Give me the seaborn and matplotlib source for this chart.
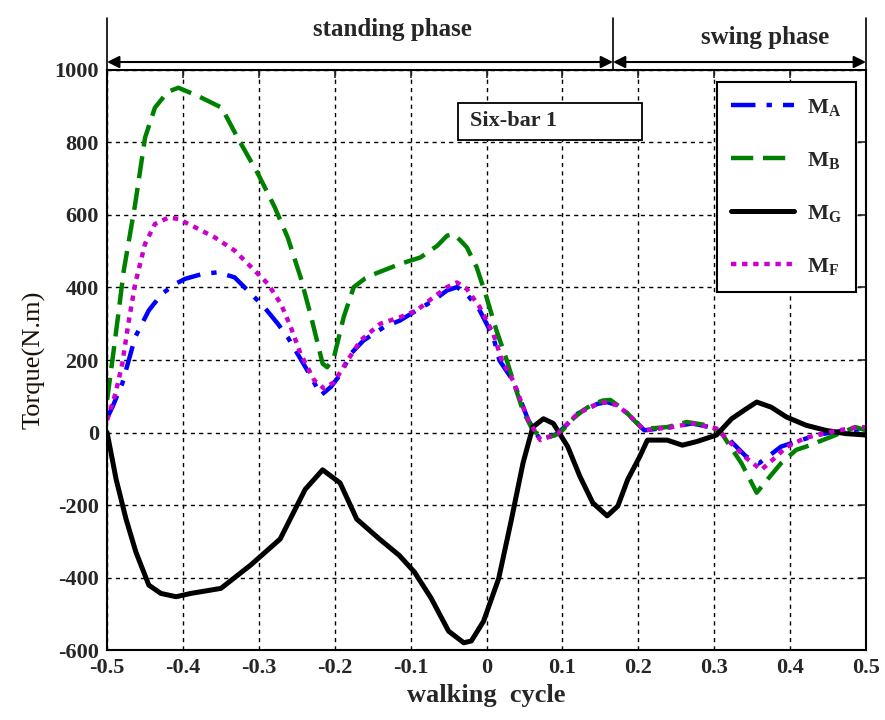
import numpy as np
import pandas as pd
import matplotlib
matplotlib.use("Agg")
import matplotlib.pyplot as plt
from matplotlib.patches import Rectangle
import seaborn as sns

# ---------------- data ----------------
xa = [-0.5, -0.493, -0.480, -0.463, -0.445, -0.428, -0.410, -0.397, -0.375, -0.354, -0.332, -0.310,
      -0.293, -0.275, -0.262, -0.249, -0.236, -0.218, -0.205, -0.192, -0.179, -0.162, -0.135, -0.114,
      -0.096, -0.070, -0.052, -0.039, -0.026, -0.009, 0.009, 0.017, 0.035, 0.055, 0.071, 0.094, 0.120,
      0.146, 0.159, 0.172, 0.186, 0.208, 0.244, 0.271, 0.303, 0.32, 0.342, 0.359, 0.375, 0.388, 0.414,
      0.44, 0.47, 0.5]
ma = [40, 70, 135, 263, 337, 382, 410, 424, 437, 442, 428, 382, 346, 300, 263, 217, 171, 103, 126,
      162, 217, 254, 291, 309, 332, 364, 392, 401, 382, 337, 263, 199, 143, 34, -21, -3, 52, 79, 84,
      75, 52, 6, 15, 25, 11, -20, -66, -85, -60, -39, -21, -5, 5, 10]

xb = [-0.5, -0.493, -0.485, -0.478, -0.463, -0.450, -0.437, -0.420, -0.406, -0.380, -0.349, -0.328,
      -0.301, -0.279, -0.262, -0.245, -0.231, -0.216, -0.210, -0.201, -0.188, -0.175, -0.160, -0.148,
      -0.114, -0.087, -0.065, -0.052, -0.044, -0.035, -0.026, -0.013, 0.0, 0.013, 0.025, 0.035, 0.048,
      0.061, 0.075, 0.09, 0.10, 0.115, 0.127, 0.14, 0.153, 0.163, 0.175, 0.186, 0.196, 0.205, 0.22,
      0.238, 0.264, 0.285, 0.297, 0.31, 0.336, 0.356, 0.372, 0.388, 0.408, 0.421, 0.454, 0.486, 0.5]
mb = [90, 199, 330, 447, 630, 813, 896, 940, 951, 928, 896, 813, 713, 621, 538, 428, 318, 190, 180,
      208, 320, 401, 425, 437, 465, 483, 515, 543, 547, 531, 511, 456, 373, 282, 210, 143, 60, 6, -15,
      -8, 6, 40, 61, 78, 88, 90, 72, 52, 30, 11, 12, 15, 29, 22, 15, -3, -85, -166, -125, -85, -48,
      -39, -12, 15, 6]

xg = [-0.5, -0.488, -0.475, -0.462, -0.445, -0.429, -0.409, -0.390, -0.350, -0.311, -0.272, -0.239,
      -0.216, -0.193, -0.171, -0.141, -0.115, -0.095, -0.073, -0.050, -0.030, -0.020, -0.004, 0.016,
      0.032, 0.048, 0.061, 0.075, 0.088, 0.107, 0.123, 0.140, 0.159, 0.173, 0.186, 0.202, 0.212, 0.238,
      0.258, 0.277, 0.303, 0.323, 0.342, 0.356, 0.375, 0.395, 0.421, 0.447, 0.473, 0.5]
mg = [0, -130, -239, -330, -421, -444, -453, -444, -430, -366, -294, -157, -103, -139, -239, -294,
      -339, -385, -457, -548, -580, -575, -521, -403, -248, -85, 15, 38, 25, -39, -121, -194, -230,
      -203, -130, -66, -21, -21, -35, -25, -7, 38, 65, 84, 70, 43, 20, 6, -3, -7]

xf = [-0.5, -0.489, -0.480, -0.472, -0.463, -0.450, -0.437, -0.419, -0.406, -0.384, -0.358, -0.332,
      -0.310, -0.288, -0.271, -0.258, -0.245, -0.227, -0.214, -0.201, -0.183, -0.166, -0.140, -0.114,
      -0.092, -0.070, -0.052, -0.039, -0.026, -0.009, 0.009, 0.02, 0.035, 0.055, 0.071, 0.094, 0.120,
      0.146, 0.159, 0.172, 0.186, 0.208, 0.244, 0.271, 0.303, 0.32, 0.342, 0.362, 0.38, 0.395, 0.42,
      0.45, 0.48, 0.5]
mf = [34, 107, 190, 300, 410, 520, 575, 593, 589, 566, 538, 502, 456, 410, 355, 291, 217, 144, 121,
      139, 199, 254, 300, 318, 337, 373, 401, 414, 396, 346, 272, 200, 143, 34, -21, -3, 52, 79, 84,
      75, 52, 6, 15, 25, 11, -25, -70, -103, -70, -40, -15, 0, 12, 15]

series_labels = [r"M$_\mathregular{A}$", r"M$_\mathregular{B}$", r"M$_\mathregular{G}$", r"M$_\mathregular{F}$"]
x_ticks = [-0.5, -0.4, -0.3, -0.2, -0.1, 0, 0.1, 0.2, 0.3, 0.4, 0.5]
x_ticklabels = ["-0.5", "-0.4", "-0.3", "-0.2", "-0.1", "0", "0.1", "0.2", "0.3", "0.4", "0.5"]
y_ticks = [-600, -400, -200, 0, 200, 400, 600, 800, 1000]
phase_labels = ["standing phase", "swing phase"]
phase_bounds = [-0.5, 1 / 6, 0.5]

# ---------------- style ----------------
sns.set_style("white")
plt.rcParams["font.family"] = ["Liberation Serif", "DejaVu Serif"]
plt.rcParams["font.weight"] = "bold"
plt.rcParams["axes.unicode_minus"] = False
plt.rcParams["mathtext.fontset"] = "custom"
plt.rcParams["mathtext.rm"] = "Liberation Serif:bold"
plt.rcParams["mathtext.it"] = "Liberation Serif:bold"
plt.rcParams["mathtext.bf"] = "Liberation Serif:bold"

fig = plt.figure(figsize=(8.85, 7.2), dpi=100)
ax = fig.add_axes([0.121, 0.0972, 0.8575, 0.8056])

styles = [
    dict(color="#0000ff", linestyle=(0, (5.5, 2.5, 1.2, 2.5)), lw=3.2),
    dict(color="#008000", linestyle=(0, (5, 2.2)), lw=3.2),
    dict(color="black", linestyle="-", lw=3.6),
    dict(color="#cc00cc", linestyle=(0, (1.2, 1.3)), lw=3.2),
]
datasets = [(xa, ma), (xb, mb), (xg, mg), (xf, mf)]
for (xs, ys), lab, st in zip(datasets, series_labels, styles):
    df = pd.DataFrame({"x": xs, "y": ys})
    sns.lineplot(data=df, x="x", y="y", ax=ax, label=lab, estimator=None, sort=False,
                 color=st["color"], linestyle=st["linestyle"], linewidth=st["lw"])

ax.set_xlim(-0.5, 0.5)
ax.set_ylim(-600, 1000)
ax.set_xticks(x_ticks)
ax.set_xticklabels(x_ticklabels)
ax.set_yticks(y_ticks)
ax.tick_params(direction="in", top=True, right=True, length=6, width=1.2, labelsize=16, pad=6)
for lab in ax.get_xticklabels() + ax.get_yticklabels():
    lab.set_fontweight("bold")
ax.grid(True, color="black", linestyle=(0, (3, 3)), linewidth=1.0)
for sp in ax.spines.values():
    sp.set_color("black")
    sp.set_linewidth(1.5)

ax.set_xlabel("walking  cycle", fontsize=19, fontweight="bold", labelpad=4)
ax.set_ylabel("Torque(N.m)", fontsize=19, fontweight="normal", labelpad=6, color="#1a1008")

leg = ax.legend(loc="upper right", bbox_to_anchor=(0.987, 0.979), fontsize=16, frameon=True,
                fancybox=False, edgecolor="black", handlelength=2.8, labelspacing=1.45,
                borderpad=0.65, handletextpad=0.6, borderaxespad=0)
leg.get_frame().set_linewidth(1.5)
leg.get_frame().set_alpha(1)

# Six-bar box
ax.add_patch(Rectangle((-0.038, 807), 0.243, 102, fill=True, facecolor="white", edgecolor="black",
                       linewidth=1.3, zorder=5))
ax.text(-0.022, 858, "Six-bar 1", fontsize=16, fontweight="bold", va="center", ha="left", zorder=6)

# phase arrows
for i, lab in enumerate(phase_labels):
    x0, x1 = phase_bounds[i], phase_bounds[i + 1]
    ax.annotate("", xy=(x0, 1022), xytext=(x1, 1022),
                arrowprops=dict(arrowstyle="<|-|>", color="black", lw=1.5, shrinkA=0, shrinkB=0,
                                mutation_scale=18),
                annotation_clip=False)
for xb_ in phase_bounds:
    ax.plot([xb_, xb_], [1000, 1143], color="black", lw=1.2, clip_on=False)
ax.text(-0.1245, 1111, phase_labels[0], fontsize=18, fontweight="bold", ha="center", va="center")
ax.text(0.367, 1089, phase_labels[1], fontsize=18, fontweight="bold", ha="center", va="center")

fig.savefig("out.png", dpi=100)
